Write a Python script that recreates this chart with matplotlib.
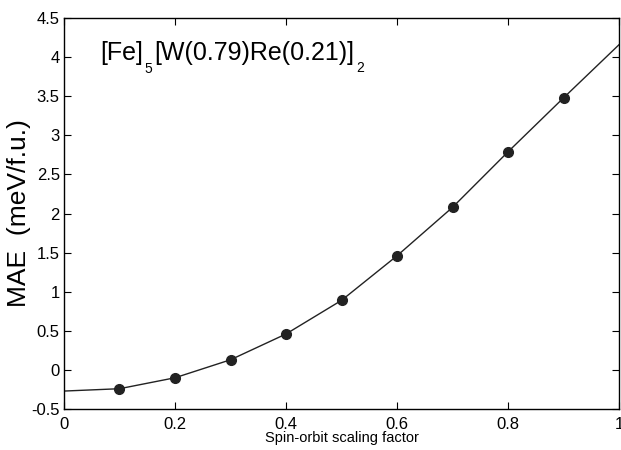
import matplotlib
matplotlib.use("Agg")
import matplotlib.pyplot as plt

plt.rcParams['font.family'] = ['Liberation Sans', 'DejaVu Sans']

# computed points
soc_x = [0.1, 0.2, 0.3, 0.4, 0.5, 0.6, 0.7, 0.8, 0.9]
mae_y = [-0.24, -0.10, 0.13, 0.46, 0.89, 1.46, 2.08, 2.79, 3.48]

# connecting line, extended to the axis limits
line_x = [0.0] + soc_x + [1.0]
line_y = [-0.27] + mae_y + [4.16]

# compound label pieces: (text, font size, drop below baseline in px)
label_parts = [('[Fe]', 18, 0), ('5', 10, 13), ('[W(0.79)Re(0.21)]', 18, 0), ('2', 10, 12)]

fig = plt.figure(figsize=(6.21, 4.5), dpi=100)
ax = fig.add_axes([0.103, 0.091, 0.894, 0.869])

ax.plot(line_x, line_y, color='#222222', linewidth=1.0)
ax.plot(soc_x, mae_y, 'o', color='#222222', markersize=7)

ax.set_xlim(0, 1)
ax.set_ylim(-0.5, 4.5)
ax.set_xticks([0, 0.2, 0.4, 0.6, 0.8, 1])
ax.set_xticklabels(['0', '0.2', '0.4', '0.6', '0.8', '1'])
ax.set_yticks([-0.5, 0, 0.5, 1, 1.5, 2, 2.5, 3, 3.5, 4, 4.5])
ax.set_yticklabels(['-0.5', '0', '0.5', '1', '1.5', '2', '2.5', '3', '3.5', '4', '4.5'])
ax.tick_params(direction='in', top=True, right=True, length=5, labelsize=12, pad=3)
ax.tick_params(axis='x', pad=6)
for s in ax.spines.values():
    s.set_linewidth(1.0)

ax.set_xlabel('Spin-orbit scaling factor', fontsize=10.5, labelpad=-1)
ax.set_ylabel('MAE  (meV/f.u.)', fontsize=19, labelpad=0)

# formula label, built piece by piece so the subscripts sit low like the original
renderer = fig.canvas.get_renderer()
x_px, base_px = 100, 450 - 60
for txt, size, drop in label_parts:
    t = fig.text(x_px, base_px - drop, txt, fontsize=size, transform=None,
                 ha='left', va='baseline')
    x_px = t.get_window_extent(renderer).x1 + 2

fig.savefig('out.png', dpi=100)
